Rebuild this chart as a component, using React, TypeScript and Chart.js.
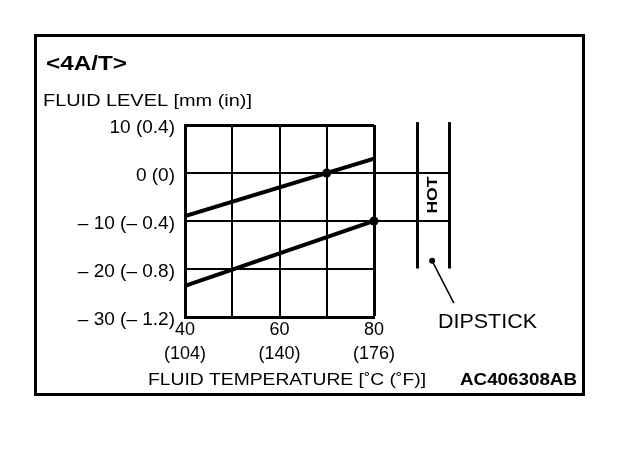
import React, { useEffect, useRef } from "react";
import { Chart, registerables } from "chart.js";

Chart.register(...registerables);

const FONT = '"Liberation Sans", Arial, Helvetica, sans-serif';

// Axis ticks
const xTickValues = [40, 60, 80];
const xTickLabelsC = ["40", "60", "80"];
const xTickLabelsF = ["(104)", "(140)", "(176)"];
const yTickValues = [10, 0, -10, -20, -30];
const yTickLabels = ["10 (0.4)", "0 (0)", "– 10 (– 0.4)", "– 20 (– 0.8)", "– 30 (– 1.2)"];

// Series (temperature °C -> fluid level mm)
const upperTemps = [40, 80];
const upperLevels = [-9, 3];
const lowerTemps = [40, 80];
const lowerLevels = [-23.5, -10];
const checkTemps = [70, 80];
const checkLevels = [0, -10];

// Dipstick drawing (in chart value units)
const hotBandLevels = [0, -10];
const dipstickRailTemps = [89.1, 95.9];
const dipstickRailLevels = [10.6, -19.9];
const dipstickDotTemp = 92.3;
const dipstickDotLevel = -18.3;
const leaderEndTemp = 96.9;
const leaderEndLevel = -27.1;
const hotLabelTemp = 92.4;
const hotLabelLevel = -4.6;

function stretchText(
  ctx: CanvasRenderingContext2D,
  text: string,
  x: number,
  y: number,
  font: string,
  width: number
) {
  ctx.save();
  ctx.font = font;
  ctx.textAlign = "left";
  ctx.textBaseline = "alphabetic";
  const w = ctx.measureText(text).width || 1;
  ctx.translate(x, y);
  ctx.scale(width / w, 1);
  ctx.fillStyle = "#000";
  ctx.fillText(text, 0, 0);
  ctx.restore();
}

const decorPlugin = {
  id: "decor",
  afterDraw(chart: any) {
    const { ctx, chartArea } = chart;
    const xs = chart.scales.x;
    const ys = chart.scales.y;
    ctx.save();
    ctx.strokeStyle = "#000";
    ctx.fillStyle = "#000";

    // frame
    ctx.lineWidth = 3;
    ctx.strokeRect(35.5, 35.5, 548, 359);

    // titles
    stretchText(ctx, "<4A/T>", 46, 70, `bold 20px ${FONT}`, 81);
    stretchText(ctx, "FLUID LEVEL [mm (in)]", 43, 106, `16px ${FONT}`, 209);
    stretchText(ctx, "FLUID TEMPERATURE [˚C (˚F)]", 148, 385, `16px ${FONT}`, 278);
    stretchText(ctx, "AC406308AB", 460, 385, `bold 17px ${FONT}`, 117);

    // hot band extension lines
    const railR = xs.getPixelForValue(dipstickRailTemps[1]);
    ctx.lineWidth = 2;
    hotBandLevels.forEach((lv) => {
      const py = Math.round(ys.getPixelForValue(lv));
      ctx.beginPath();
      ctx.moveTo(chartArea.right, py);
      ctx.lineTo(railR, py);
      ctx.stroke();
    });

    // dipstick rails
    ctx.lineWidth = 3;
    dipstickRailTemps.forEach((t) => {
      const px = Math.round(xs.getPixelForValue(t)) + 0.5;
      ctx.beginPath();
      ctx.moveTo(px, ys.getPixelForValue(dipstickRailLevels[0]));
      ctx.lineTo(px, ys.getPixelForValue(dipstickRailLevels[1]));
      ctx.stroke();
    });

    // dipstick dot + leader
    const dx = xs.getPixelForValue(dipstickDotTemp);
    const dy = ys.getPixelForValue(dipstickDotLevel);
    ctx.beginPath();
    ctx.arc(dx, dy, 3, 0, Math.PI * 2);
    ctx.fill();
    ctx.lineWidth = 1.5;
    ctx.beginPath();
    ctx.moveTo(dx, dy);
    ctx.lineTo(xs.getPixelForValue(leaderEndTemp), ys.getPixelForValue(leaderEndLevel));
    ctx.stroke();

    stretchText(ctx, "DIPSTICK", 438, 328, `20px ${FONT}`, 99);

    // HOT (rotated)
    ctx.save();
    ctx.translate(xs.getPixelForValue(hotLabelTemp), ys.getPixelForValue(hotLabelLevel));
    ctx.rotate(-Math.PI / 2);
    ctx.font = `bold 15px ${FONT}`;
    const hw = ctx.measureText("HOT").width || 1;
    ctx.scale(37 / hw, 1);
    ctx.textAlign = "center";
    ctx.textBaseline = "middle";
    ctx.fillText("HOT", 0, 0);
    ctx.restore();

    ctx.restore();
  },
};

export default function App() {
  const ref = useRef<HTMLCanvasElement | null>(null);

  useEffect(() => {
    if (!ref.current) return;
    const toPts = (xs: number[], ys: number[]) => xs.map((x, i) => ({ x, y: ys[i] }));
    const chart = new Chart(ref.current, {
      type: "line",
      data: {
        datasets: [
          {
            data: toPts(upperTemps, upperLevels),
            borderColor: "#000",
            borderWidth: 4,
            pointRadius: 0,
            tension: 0,
          },
          {
            data: toPts(lowerTemps, lowerLevels),
            borderColor: "#000",
            borderWidth: 4,
            pointRadius: 0,
            tension: 0,
          },
          {
            data: toPts(checkTemps, checkLevels),
            showLine: false,
            pointRadius: 4.5,
            pointBackgroundColor: "#000",
            pointBorderColor: "#000",
            pointBorderWidth: 0,
            clip: false as any,
          },
        ],
      },
      options: {
        responsive: false,
        animation: false,
        devicePixelRatio: 1,
        events: [],
        layout: { padding: { left: 0, top: 125, right: 266, bottom: 0 } },
        plugins: {
          legend: { display: false },
          tooltip: { enabled: false },
          title: { display: false },
        },
        scales: {
          x: {
            type: "linear",
            min: 40,
            max: 80,
            ticks: {
              stepSize: 10,
              padding: 2,
              color: "#000",
              maxRotation: 0,
              autoSkip: false,
              font: { family: FONT, size: 18, lineHeight: 1.28 },
              callback: (v: any) => {
                const i = xTickValues.indexOf(Number(v));
                return i < 0 ? "" : [xTickLabelsC[i], xTickLabelsF[i]];
              },
            },
            grid: {
              color: "#000",
              drawTicks: false,
              lineWidth: (c: any) => (c.tick && c.tick.value === 80 ? 3 : 2),
            },
            border: { display: true, color: "#000", width: 3 },
            afterFit: (s: any) => {
              s.height = 458 - 317;
            },
          },
          y: {
            type: "linear",
            min: -30,
            max: 10,
            ticks: {
              stepSize: 10,
              padding: 10,
              labelOffset: 3,
              color: "#000",
              font: { family: FONT, size: 19 },
              callback: (v: any) => {
                const i = yTickValues.indexOf(Number(v));
                return i < 0 ? "" : yTickLabels[i];
              },
            },
            grid: {
              color: "#000",
              drawTicks: false,
              lineWidth: (c: any) => (c.tick && c.tick.value === 10 ? 3 : 2),
            },
            border: { display: true, color: "#000", width: 3 },
            afterFit: (s: any) => {
              s.width = 185;
            },
          },
        },
      },
      plugins: [decorPlugin],
    });
    return () => chart.destroy();
  }, []);

  return (
    <div style={{ position: "absolute", left: 0, top: 0, width: 640, height: 458, background: "#fff" }}>
      <canvas ref={ref} width={640} height={458} style={{ display: "block" }} />
    </div>
  );
}
